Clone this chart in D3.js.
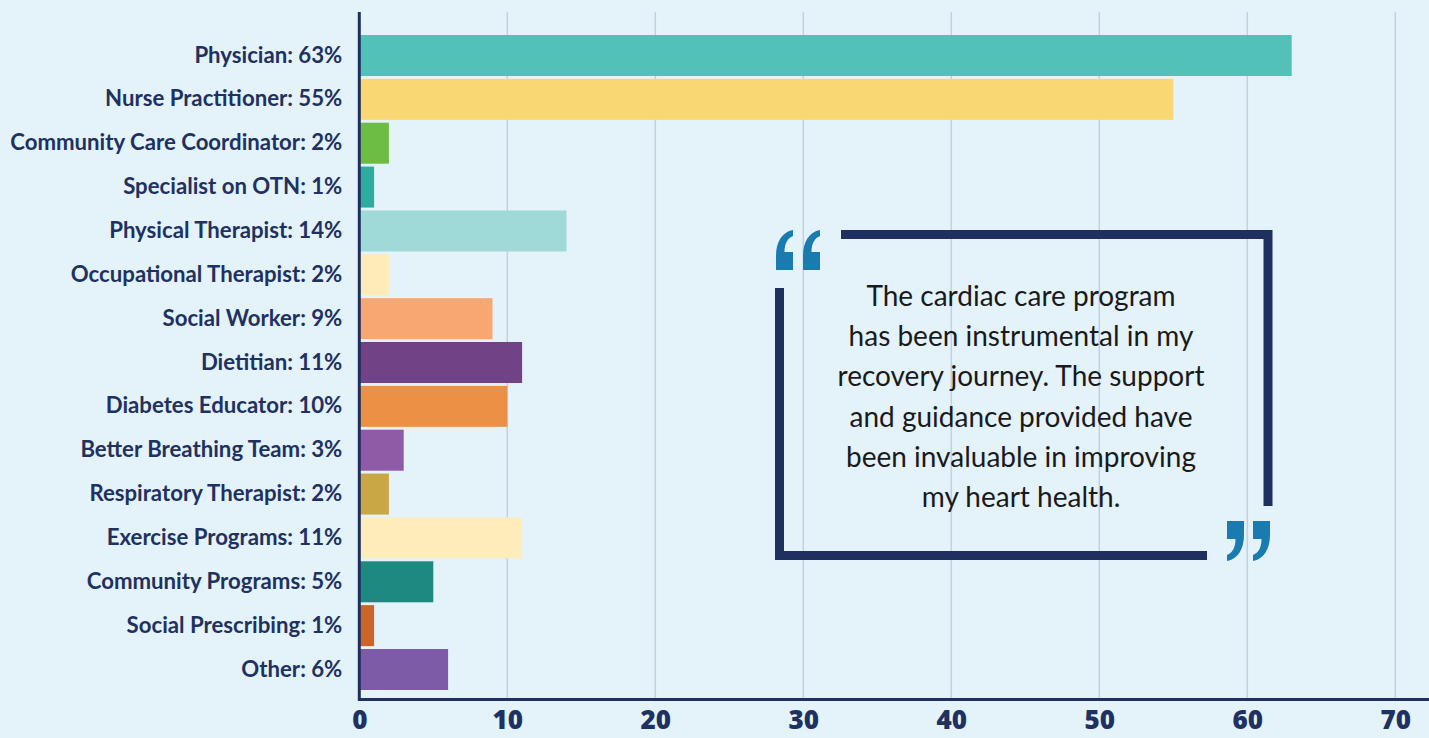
<!DOCTYPE html>
<html>
<head>
<meta charset="utf-8">
<script src="https://cdn.jsdelivr.net/npm/d3@7"></script>
<style>
  html, body { margin: 0; padding: 0; background: #e4f2fa; }
  svg { display: block; }
</style>
</head>
<body>
<div id="wrapper"></div>
<script>
const categories = [
    'Physician', 'Nurse Practitioner', 'Community Care Coordinator', 'Specialist on OTN',
    'Physical Therapist', 'Occupational Therapist', 'Social Worker', 'Dietitian',
    'Diabetes Educator', 'Better Breathing Team', 'Respiratory Therapist', 'Exercise Programs',
    'Community Programs', 'Social Prescribing', 'Other'
];
const values = [63, 55, 2, 1, 14, 2, 9, 11, 10, 3, 2, 11, 5, 1, 6];
const barColors = [
    '#52c2b9', '#f9d873', '#6dbd45', '#2dada0', '#a0dad8', '#feebb8', '#f9a772', '#714286',
    '#ec9046', '#8f5ba7', '#c9a744', '#feecba', '#1e8a7f', '#cd6428', '#7d5ba6'
];
const xTicks = [0, 10, 20, 30, 40, 50, 60, 70];
const quoteLines = [
    'The cardiac care program',
    'has been instrumental in my',
    'recovery journey. The support',
    'and guidance provided have',
    'been invaluable in improving',
    'my heart health.'
];

const dataset = categories.map((c, i) => ({ name: c, value: values[i], color: barColors[i] }));

const dimensions = {
    width: 1429,
    height: 738,
    margin: { top: 12, right: 0, bottom: 38, left: 359.3 }
};

const navy = '#1f2f5f';

const wrapper = d3.select('#wrapper')
    .append('svg')
    .attr('width', dimensions.width)
    .attr('height', dimensions.height);

wrapper.append('rect')
    .attr('width', dimensions.width)
    .attr('height', dimensions.height)
    .attr('fill', '#e4f2fa');

const xScale = d3.scaleLinear()
    .domain([0, 70])
    .range([dimensions.margin.left, 1395.3]);

const yScale = d3.scaleBand()
    .domain(categories)
    .range([35, 690])
    .paddingInner(0.065)
    .paddingOuter(0);

const axisY = 699.5;

// grid
wrapper.append('g')
    .selectAll('line')
    .data(xTicks.slice(1))
    .join('line')
    .attr('x1', d => xScale(d))
    .attr('x2', d => xScale(d))
    .attr('y1', dimensions.margin.top)
    .attr('y2', axisY)
    .attr('stroke', '#c3cfe4')
    .attr('stroke-width', 1.5);

// bars
wrapper.append('g')
    .selectAll('rect')
    .data(dataset)
    .join('rect')
    .attr('x', xScale(0))
    .attr('y', d => yScale(d.name))
    .attr('width', d => xScale(d.value) - xScale(0))
    .attr('height', yScale.bandwidth())
    .attr('fill', d => d.color);

// y axis labels
const yAxis = wrapper.append('g')
    .attr('transform', `translate(${xScale(0)},0)`)
    .call(d3.axisLeft(yScale)
        .tickSize(0)
        .tickPadding(17)
        .tickFormat(d => `${d}: ${values[categories.indexOf(d)]}%`));
yAxis.select('.domain').remove();
yAxis.selectAll('text')
    .attr('fill', '#1e3160')
    .style('font-family', 'Lato, sans-serif')
    .style('font-weight', 700)
    .style('font-size', '22.2px');

// x axis labels
const xAxis = wrapper.append('g')
    .attr('transform', `translate(0,${axisY})`)
    .call(d3.axisBottom(xScale)
        .tickValues(xTicks)
        .tickSize(0)
        .tickPadding(11));
xAxis.select('.domain').remove();
xAxis.selectAll('text')
    .attr('fill', '#1e3160')
    .attr('dy', '0.72em')
    .style('font-family', '"Open Sans", sans-serif')
    .style('font-weight', 800)
    .style('font-size', '26px');

// axis lines
wrapper.append('line')
    .attr('x1', xScale(0)).attr('x2', dimensions.width)
    .attr('y1', axisY).attr('y2', axisY)
    .attr('stroke', navy).attr('stroke-width', 3);
wrapper.append('line')
    .attr('x1', xScale(0)).attr('x2', xScale(0))
    .attr('y1', dimensions.margin.top).attr('y2', axisY + 1.5)
    .attr('stroke', navy).attr('stroke-width', 3);

// quote frame
const frame = wrapper.append('g')
    .attr('fill', 'none')
    .attr('stroke', navy)
    .attr('stroke-width', 9);
frame.append('path')
    .attr('d', 'M841,234.5 H1268 V506');
frame.append('path')
    .attr('d', 'M779.5,288 V555.5 H1207');

// quote marks (one comma shape, rotated for the closing pair)
const markPath = 'M0,40 V26 C0,12 6,2 17,0 V6 C12,8 8.5,13 8.5,22 H17 V40 Z';
const marks = wrapper.append('g').attr('fill', '#1a7bb0');
[776, 803].forEach(x => marks.append('path')
    .attr('d', markPath)
    .attr('transform', `translate(${x},230)`));
[1227, 1253].forEach(x => marks.append('path')
    .attr('d', markPath)
    .attr('transform', `translate(${x + 17},${561}) rotate(180)`));

wrapper.append('g')
    .selectAll('text')
    .data(quoteLines)
    .join('text')
    .attr('x', 1021)
    .attr('y', (d, i) => 306 + i * 40.2)
    .attr('text-anchor', 'middle')
    .attr('fill', '#1a1a1a')
    .style('font-family', 'Lato, sans-serif')
    .style('font-size', '28px')
    .text(d => d);
</script>
</body>
</html>
